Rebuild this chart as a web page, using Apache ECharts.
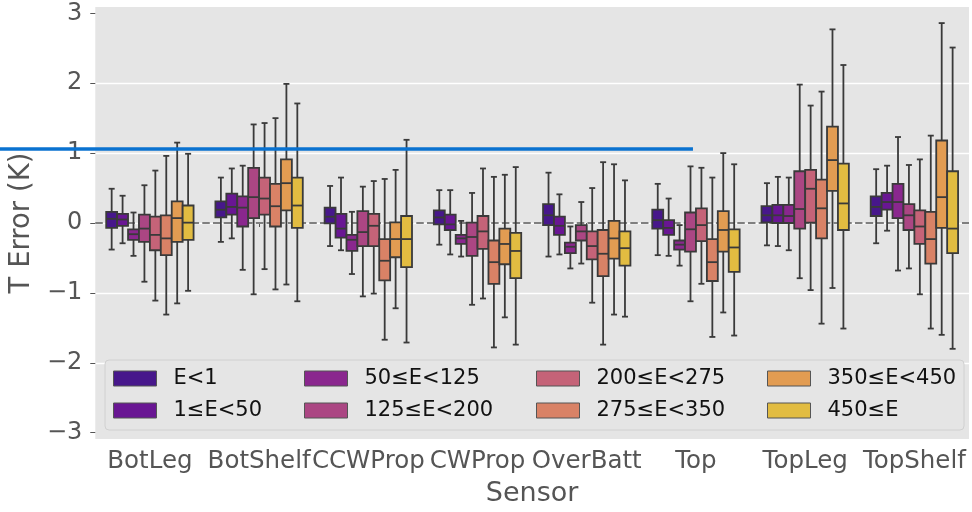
<!DOCTYPE html>
<html><head><meta charset="utf-8">
<script src="https://cdn.jsdelivr.net/npm/echarts@6/dist/echarts.min.js"></script>
<style>html,body{margin:0;padding:0;background:#fff}#c{width:972px;height:512px}</style>
</head><body><div id="c"></div>
<script>
const sensors = ['BotLeg','BotShelf','CCWProp','CWProp','OverBatt','Top','TopLeg','TopShelf'];
const energyBins = ['E<1','1≤E<50','50≤E<125','125≤E<200','200≤E<275','275≤E<350','350≤E<450','450≤E'];
const binColors = ['#47178b','#691693','#8a278e','#ab4683','#c56378','#d98266','#e29c52','#e2bc41'];
const yTicks = [-3,-2,-1,0,1,2,3];
const refLineValue = 1.06;

// per sensor: [whisker low, Q1, median, Q3, whisker high]
const statsE1 = [[-0.38,-0.07,0.06,0.16,0.49],[-0.27,0.08,0.19,0.31,0.65],[-0.33,-0.005,0.09,0.22,0.53],[-0.31,-0.02,0.08,0.18,0.47],[-0.48,-0.03,0.11,0.27,0.72],[-0.46,-0.08,0.04,0.19,0.56],[-0.32,0.01,0.11,0.24,0.57],[-0.29,0.10,0.23,0.38,0.77]];
const statsE1to50 = [[-0.29,-0.04,0.05,0.13,0.39],[-0.22,0.12,0.23,0.42,0.78],[-0.39,-0.21,-0.08,0.13,0.65],[-0.45,-0.10,-0.02,0.12,0.47],[-0.45,-0.17,-0.04,0.09,0.41],[-0.47,-0.17,-0.07,0.04,0.35],[-0.33,0.00,0.11,0.26,0.66],[-0.11,0.19,0.30,0.43,0.82]];
const statsE50to125 = [[-0.47,-0.24,-0.16,-0.09,0.15],[-0.67,-0.05,0.22,0.38,0.82],[-0.73,-0.40,-0.24,-0.17,0.16],[-0.48,-0.30,-0.22,-0.17,0.03],[-0.65,-0.43,-0.34,-0.28,-0.05],[-0.61,-0.38,-0.31,-0.25,-0.03],[-0.39,0.00,0.10,0.26,0.65],[-0.68,0.07,0.30,0.56,1.23]];
const statsE125to200 = [[-0.84,-0.27,-0.08,0.12,0.54],[-1.02,0.07,0.37,0.79,1.41],[-1.05,-0.33,-0.13,0.17,0.52],[-1.17,-0.47,-0.20,0.005,0.43],[-0.58,-0.25,-0.12,-0.03,0.30],[-1.12,-0.41,-0.09,0.15,0.81],[-0.79,-0.08,0.20,0.74,1.98],[-0.65,-0.10,0.11,0.27,0.83]];
const statsE200to275 = [[-1.11,-0.39,-0.17,0.09,0.75],[-0.66,0.12,0.35,0.65,1.43],[-1.01,-0.33,-0.04,0.13,0.60],[-1.08,-0.37,-0.12,0.10,0.78],[-1.14,-0.52,-0.33,-0.12,0.50],[-0.87,-0.26,-0.03,0.21,0.79],[-0.96,0.005,0.49,0.76,1.68],[-1.02,-0.30,-0.05,0.18,0.91]];
const statsE275to350 = [[-1.31,-0.46,-0.22,0.11,0.96],[-0.95,-0.05,0.24,0.56,1.50],[-1.67,-0.82,-0.54,-0.23,0.63],[-1.78,-0.87,-0.56,-0.25,0.66],[-1.74,-0.76,-0.44,-0.10,0.87],[-1.63,-0.83,-0.56,-0.23,0.65],[-1.44,-0.22,0.21,0.62,1.88],[-1.51,-0.58,-0.23,0.16,1.25]];
const statsE350to450 = [[-1.15,-0.27,0.07,0.31,1.15],[-0.88,0.18,0.57,0.91,1.99],[-1.22,-0.49,-0.23,0.01,0.76],[-1.35,-0.59,-0.30,-0.08,0.69],[-1.31,-0.51,-0.22,0.03,0.84],[-1.28,-0.41,-0.10,0.17,1.00],[-0.93,0.46,0.90,1.38,2.77],[-1.60,-0.07,0.37,1.18,2.86]];
const statsE450up = [[-0.97,-0.24,0.005,0.25,0.99],[-1.12,-0.07,0.25,0.65,1.71],[-1.71,-0.63,-0.23,0.10,1.19],[-1.74,-0.79,-0.40,-0.14,0.80],[-1.34,-0.61,-0.36,-0.12,0.61],[-1.61,-0.70,-0.35,-0.09,0.84],[-1.51,-0.10,0.28,0.85,2.26],[-1.80,-0.43,-0.08,0.74,2.51]];
const allStats = [statsE1, statsE1to50, statsE50to125, statsE125to200, statsE200to275, statsE275to350, statsE350to450, statsE450up];

const FONT = 'DejaVu Sans';
const EDGE = '#3a3a3a';
const LW = 1.8;

function makeRenderer(k) {
  return function (params, api) {
    const ci = api.value(0);
    const band = api.size([1, 0])[0];
    const n = energyBins.length;
    const boxW = band * 0.8 / n;
    const cx = api.coord([ci, 0])[0] + (k - (n - 1) / 2) * boxW;
    const yLow = api.coord([ci, api.value(1)])[1];
    const yQ1 = api.coord([ci, api.value(2)])[1];
    const yMed = api.coord([ci, api.value(3)])[1];
    const yQ3 = api.coord([ci, api.value(4)])[1];
    const yHigh = api.coord([ci, api.value(5)])[1];
    const capW = boxW * 0.55;
    const ls = { stroke: EDGE, lineWidth: LW };
    return {
      type: 'group',
      children: [
        { type: 'line', shape: { x1: cx, y1: yQ3, x2: cx, y2: yHigh }, style: ls },
        { type: 'line', shape: { x1: cx, y1: yQ1, x2: cx, y2: yLow }, style: ls },
        { type: 'line', shape: { x1: cx - capW / 2, y1: yHigh, x2: cx + capW / 2, y2: yHigh }, style: ls },
        { type: 'line', shape: { x1: cx - capW / 2, y1: yLow, x2: cx + capW / 2, y2: yLow }, style: ls },
        { type: 'rect', shape: { x: cx - boxW / 2, y: yQ3, width: boxW, height: yQ1 - yQ3 },
          style: { fill: binColors[k], stroke: EDGE, lineWidth: LW } },
        { type: 'line', shape: { x1: cx - boxW / 2, y1: yMed, x2: cx + boxW / 2, y2: yMed }, style: ls }
      ]
    };
  };
}

const series = energyBins.map((name, k) => {
  const s = {
    type: 'custom',
    name: name,
    renderItem: makeRenderer(k),
    itemStyle: { color: binColors[k], borderColor: EDGE, borderWidth: 1 },
    encode: { x: 0, y: [1, 2, 3, 4, 5] },
    data: allStats[k].map((st, i) => [i].concat(st)),
    z: 2
  };
  if (k === 0) {
    s.markLine = {
      silent: true, symbol: 'none', z: 1, animation: false,
      label: { show: false },
      lineStyle: { color: '#7f7f7f', type: [7.5, 3.2], width: 2 },
      data: [{ yAxis: 0 }]
    };
  }
  return s;
});

const legendCols = [[0, 1], [2, 3], [4, 5], [6, 7]];
const legendLefts = [113, 304, 536, 767];
const legends = legendCols.map((col, i) => ({
  orient: 'vertical', left: legendLefts[i], top: 368, padding: 0,
  itemGap: 11, itemWidth: 43, itemHeight: 15, icon: 'rect', selectedMode: false,
  data: col.map(j => energyBins[j]),
  itemStyle: { borderColor: '#555', borderWidth: 1 },
  textStyle: { fontFamily: FONT, fontSize: 21, color: '#111', lineHeight: 20, padding: [0, 0, 0, 12] }
}));

const chart = echarts.init(document.getElementById('c'), null, { renderer: 'canvas' });
chart.setOption({
  animation: false,
  backgroundColor: '#fff',
  textStyle: { fontFamily: FONT },
  grid: { left: 95, right: 3, top: 7, bottom: 72.6, show: true, backgroundColor: '#e5e5e5', borderWidth: 0 },
  xAxis: {
    type: 'category', data: sensors, boundaryGap: true,
    name: 'Sensor', nameLocation: 'middle', nameGap: 41,
    nameTextStyle: { fontFamily: FONT, fontSize: 27, color: '#555' },
    axisLine: { show: false },
    axisTick: { show: true, alignWithLabel: true, length: 4, lineStyle: { color: '#555' } },
    axisLabel: { interval: 0, fontFamily: FONT, fontSize: 24.5, color: '#555', margin: 10 },
    splitLine: { show: false }
  },
  yAxis: {
    type: 'value', min: -3.09, max: 3.09,
    name: 'T Error (K)', nameLocation: 'middle', nameGap: 57,
    nameTextStyle: { fontFamily: FONT, fontSize: 27.5, color: '#555' },
    axisLine: { show: false },
    axisTick: { show: true, length: 5, customValues: yTicks, lineStyle: { color: '#555' } },
    axisLabel: { customValues: yTicks, fontFamily: FONT, fontSize: 24, color: '#555', margin: 13,
      formatter: v => String(v).replace('-', '\u2212') },
    splitLine: { show: true, showMinLine: false, showMaxLine: false, lineStyle: { color: '#ffffff', width: 1.4 } }
  },
  legend: legends,
  series: series
});

const frameTL = [105, 360];
const frameBR = [964, 430];
const yRef = chart.convertToPixel({ yAxisIndex: 0 }, refLineValue);
const xRefEnd = chart.convertToPixel({ xAxisIndex: 0 }, 'Top') - 3;
chart.setOption({
  graphic: [
    { type: 'rect', z: 3, silent: true,
      shape: { x: frameTL[0], y: frameTL[1], width: frameBR[0] - frameTL[0], height: frameBR[1] - frameTL[1], r: 4 },
      style: { fill: '#e5e5e5', stroke: '#d0d0d0', lineWidth: 1 } },
    { type: 'line', z: 100, silent: true,
      shape: { x1: 0, y1: yRef, x2: xRefEnd, y2: yRef },
      style: { stroke: '#0a72d0', lineWidth: 3.5 } }
  ]
});
</script>
</body></html>
